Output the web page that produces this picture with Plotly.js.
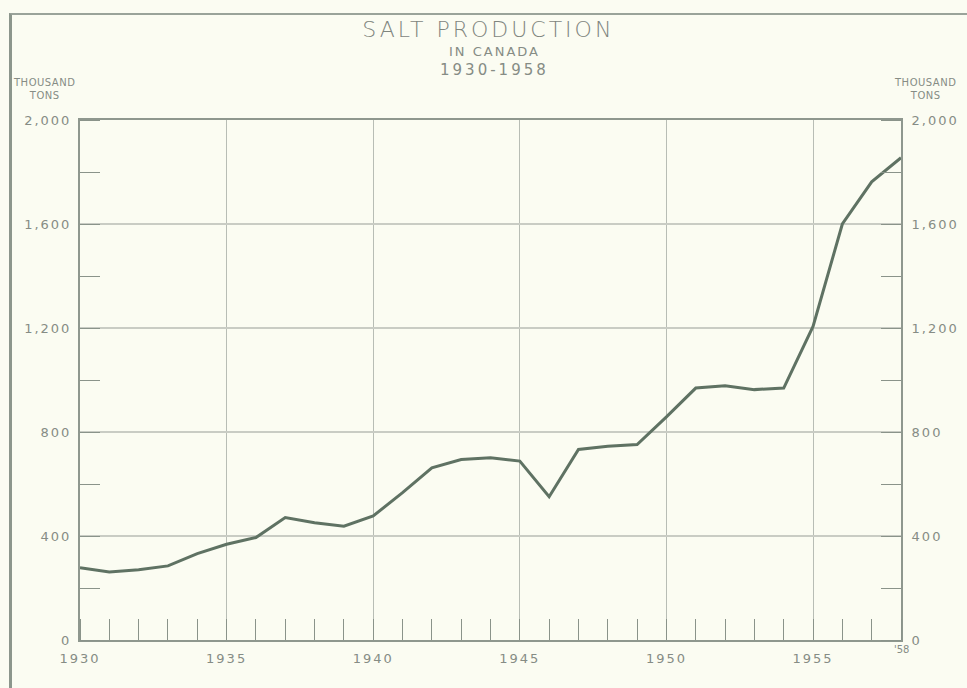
<!DOCTYPE html>
<html>
<head>
<meta charset="utf-8">
<script src="https://cdn.plot.ly/plotly-3.0.1.min.js"></script>
<style>
  html, body { margin:0; padding:0; background:#fbfcf2; }
  #wrap { position:relative; width:967px; height:688px; overflow:hidden; }
  #chart { position:absolute; left:0; top:0; width:967px; height:688px; }
  #frame { position:absolute; left:9px; top:13px; width:1000px; height:700px;
           border-left:3px solid #8c968c; border-top:2px solid #9aa39a; pointer-events:none; }
</style>
</head>
<body>
<div id="wrap">
  <div id="chart"></div>
  <div id="frame"></div>
</div>
<script>
// Salt production in Canada, thousand tons
const years = [1930,1931,1932,1933,1934,1935,1936,1937,1938,1939,1940,1941,1942,1943,1944,
               1945,1946,1947,1948,1949,1950,1951,1952,1953,1954,1955,1956,1957,1958];
const production = [278,262,270,285,332,368,394,471,451,438,477,567,662,694,701,
                    688,551,733,745,752,858,969,978,963,969,1206,1600,1762,1855];

const xTickVals = [1930,1935,1940,1945,1950,1955];
const xTickText = ['1930','1935','1940','1945','1950','1955'];
const yTickVals = [0,400,800,1200,1600,2000];
const yTickText = ['0','400','800','1,200','1,600','2,000'];

const sp = (s, px) => '<span style="letter-spacing:' + px + 'px">' + s + '</span>';

const txt = '#868c85';
const axisCol = '#8e978e';
const font = {family:'DejaVu Sans, sans-serif', size:13, color:txt};

const traces = [
  {x: years, y: production, type:'scatter', mode:'lines',
   line:{color:'#5f7263', width:3}, hoverinfo:'x+y', showlegend:false},
  {x: years, y: production, type:'scatter', mode:'lines', yaxis:'y2',
   line:{color:'rgba(0,0,0,0)', width:0}, hoverinfo:'skip', showlegend:false}
];

const layout = {
  width:967, height:688,
  paper_bgcolor:'#fbfcf2', plot_bgcolor:'#fbfcf2',
  margin:{l:80, r:66, t:120, b:48},
  font: font,
  title:{text: sp('SALT PRODUCTION', 3), x:0.505, xanchor:'center', y:0.968, yanchor:'top',
         font:{family:'DejaVu Sans, sans-serif', size:22, color:'#7f857e', weight:300}},
  xaxis:{range:[1930,1958], tickvals:xTickVals, ticktext:xTickText.map(t => sp(t, 2)),
         showgrid:true, gridcolor:'#b8bdb5', gridwidth:1,
         ticks:'', showline:true, linecolor:axisCol, linewidth:2, mirror:true,
         zeroline:false, tickfont:font, ticklabelstandoff:5,
         minor:{dtick:1, tick0:1930, ticks:'inside', ticklen:21, tickcolor:'#8a938a', tickwidth:1, showgrid:false}},
  yaxis:{range:[0,2000], tickvals:yTickVals, ticktext:yTickText.map(t => sp(t, 2)),
         showgrid:true, gridcolor:'#c9ccc4', gridwidth:2,
         ticks:'', showline:true, linecolor:axisCol, linewidth:2,
         zeroline:false, tickfont:font, ticklabelstandoff:4,
         minor:{dtick:200, tick0:0, ticks:'inside', ticklen:20, tickcolor:'#8a938a', tickwidth:1, showgrid:false}},
  yaxis2:{range:[0,2000], overlaying:'y', side:'right', tickvals:yTickVals, ticktext:yTickText.map(t => sp(t, 2)),
          showgrid:false, ticks:'', showline:true, linecolor:axisCol, linewidth:2,
          zeroline:false, tickfont:font, ticklabelstandoff:6,
          minor:{dtick:200, tick0:0, ticks:'inside', ticklen:20, tickcolor:'#8a938a', tickwidth:1, showgrid:false}},
  annotations:[
    {text: sp('IN CANADA', 2), xref:'paper', yref:'paper', x:0.505, y:1.131, xanchor:'center', yanchor:'middle',
     showarrow:false, font:{family:'DejaVu Sans, sans-serif', size:13, color:txt}},
    {text: sp('1930-1958', 3), xref:'paper', yref:'paper', x:0.505, y:1.097, xanchor:'center', yanchor:'middle',
     showarrow:false, font:{family:'DejaVu Sans, sans-serif', size:15, color:txt}},
    {text: sp('THOUSAND', 0.5) + '<br>' + sp('TONS', 0.5), xref:'paper', yref:'paper', x:-0.044, y:1.033, xanchor:'center', yanchor:'bottom',
     showarrow:false, font:{family:'DejaVu Sans, sans-serif', size:10, color:txt}},
    {text: sp('THOUSAND', 0.5) + '<br>' + sp('TONS', 0.5), xref:'paper', yref:'paper', x:1.029, y:1.033, xanchor:'center', yanchor:'bottom',
     showarrow:false, font:{family:'DejaVu Sans, sans-serif', size:10, color:txt}},
    {text:"'58", xref:'x', yref:'paper', x:1958, y:0, xanchor:'center', yanchor:'top', yshift:-2,
     showarrow:false, font:{family:'DejaVu Sans, sans-serif', size:10, color:txt}}
  ]
};

Plotly.newPlot('chart', traces, layout, {staticPlot:true});
</script>
</body>
</html>
